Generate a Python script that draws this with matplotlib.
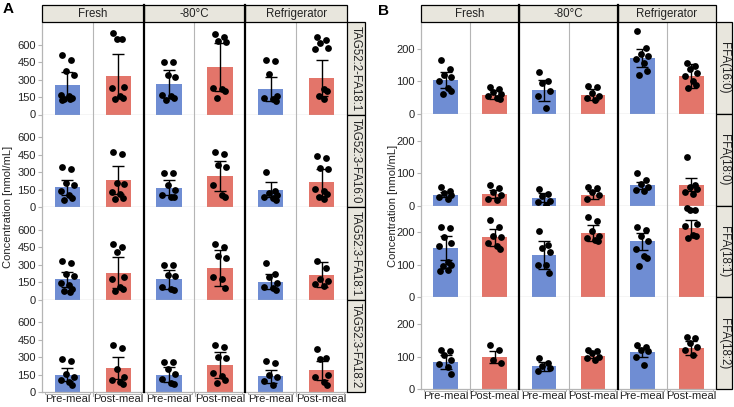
import matplotlib
matplotlib.use("Agg")
import matplotlib.pyplot as plt
from matplotlib.lines import Line2D
from matplotlib.patches import Rectangle

plt.rcParams['font.family'] = ['Liberation Sans', 'DejaVu Sans']

# ── categories ──
conditions = ["Fresh", "-80°C", "Refrigerator"]
meals = ["Pre-meal", "Post-meal"]
tag_rows = ["TAG52:2-FA18:1", "TAG52:3-FA16:0", "TAG52:3-FA18:1", "TAG52:3-FA18:2"]
ffa_rows = ["FFA(16:0)", "FFA(18:0)", "FFA(18:1)", "FFA(18:2)"]

# order in each row: Fresh pre, Fresh post, -80 pre, -80 post, Refr pre, Refr post
tag_mean = [
    [257, 331, 263, 409, 220, 314],
    [170, 232, 167, 266, 147, 212],
    [172, 231, 172, 272, 153, 214],
    [149, 206, 149, 234, 135, 186],
]
tag_sd = [
    [109, 192, 117, 205, 100, 157],
    [65, 122, 68, 131, 65, 114],
    [64, 132, 78, 153, 64, 106],
    [54, 98, 62, 112, 54, 84],
]
tag_points = [
    [[510, 470, 370, 340, 170, 155, 145, 135, 130, 125],
     [700, 650, 650, 235, 225, 160, 145, 130],
     [455, 450, 340, 325, 170, 155, 140, 125],
     [690, 670, 635, 620, 225, 215, 205, 145],
     [465, 460, 345, 155, 145, 130, 115],
     [665, 640, 615, 570, 565, 215, 200, 160, 135]],
    [[340, 325, 205, 185, 135, 100, 75, 60],
     [475, 455, 205, 200, 125, 110, 75, 65],
     [295, 290, 185, 150, 100, 90, 85],
     [475, 455, 360, 345, 185, 100, 90],
     [305, 135, 120, 100, 90, 75, 60],
     [440, 425, 335, 325, 155, 135, 115, 90, 70]],
    [[330, 310, 215, 200, 140, 125, 90, 75, 65],
     [475, 455, 410, 190, 180, 110, 90, 75],
     [300, 298, 210, 200, 110, 90, 78],
     [480, 455, 370, 355, 195, 180, 95],
     [310, 215, 190, 140, 110, 95, 85],
     [335, 270, 180, 160, 135, 115]],
    [[280, 270, 155, 130, 100, 85, 60],
     [400, 380, 195, 125, 100, 90, 70],
     [260, 258, 195, 155, 115, 80, 65],
     [400, 385, 305, 295, 165, 140, 100, 80],
     [270, 250, 150, 125, 95, 60],
     [370, 290, 280, 150, 125, 85, 60]],
]

ffa_mean = [
    [103, 59, 72, 59, 172, 116],
    [33, 36, 24, 33, 62, 64],
    [152, 185, 130, 198, 172, 213],
    [83, 99, 70, 103, 113, 126],
]
ffa_sd = [
    [25, 13, 32, 16, 28, 36],
    [8, 12, 14, 13, 10, 20],
    [38, 26, 42, 25, 26, 26],
    [21, 19, 13, 8, 13, 21],
]
ffa_points = [
    [[167, 137, 118, 113, 100, 78, 70, 60],
     [82, 75, 68, 60, 55, 50, 45],
     [128, 100, 95, 70, 55, 18],
     [85, 82, 65, 55, 50, 42],
     [256, 203, 183, 177, 170, 157, 131, 121],
     [157, 147, 137, 127, 116, 100, 90, 80]],
    [[58, 46, 38, 31, 26, 21],
     [62, 54, 41, 31, 21, 16],
     [51, 36, 28, 15, 10, 3],
     [56, 54, 41, 31, 21],
     [99, 79, 67, 56, 48, 44],
     [151, 62, 56, 51, 41, 36]],
    [[218, 213, 186, 167, 157, 108, 100, 95, 85, 80],
     [239, 218, 190, 186, 167, 157, 150],
     [203, 162, 152, 140, 100, 98, 74],
     [247, 234, 205, 188, 183, 178, 172],
     [216, 208, 188, 172, 150, 127, 121, 96],
     [274, 270, 268, 225, 220, 193, 190, 183]],
    [[121, 116, 106, 88, 78, 68, 45],
     [136, 121, 90, 80],
     [97, 80, 70, 65, 54],
     [121, 116, 111, 100, 95, 90],
     [136, 129, 120, 116, 100, 75],
     [160, 157, 142, 131, 121, 106]],
]

# ── style ──
W, H = 734, 407
BLUE = '#6F8DD3'
RED = '#E3756A'
GREY = '#B5B5B5'
STRIP = '#E8E6DD'
JIT = [-0.10, 0.08, -0.03, 0.12, -0.13, 0.04, 0.10, -0.06, 0.05, -0.11]


def fx(px):
    return px / W


def fy(py):
    return 1 - py / H


fig = plt.figure(figsize=(W / 100, H / 100), dpi=100, facecolor='white')


def draw_panel(letter, lx, left, right, strip_r, bottom, ymax, yticks,
               rows, means, sds, points, letter_x, letter_y):
    top = 22
    rh = (bottom - top) / 4
    gw = (right - left) / 3
    for r in range(4):
        rt = top + r * rh
        ax = fig.add_axes([fx(left), fy(rt + rh), (right - left) / W, rh / H])
        ax.set_xlim(-0.5, 5.5)
        ax.set_ylim(0, ymax)
        for i in range(6):
            col = BLUE if i % 2 == 0 else RED
            ax.bar(i, means[r][i], width=0.5, color=col, zorder=2)
            pts = points[r][i]
            xs = [i + JIT[k % len(JIT)] for k in range(len(pts))]
            ax.scatter(xs, pts, s=24, color='black', zorder=3, linewidths=0)
            ax.errorbar(i, means[r][i], yerr=sds[r][i], fmt='none',
                        ecolor='black', elinewidth=1.0, capsize=4,
                        capthick=1.0, zorder=4)
        for xv in (0.5, 2.5, 4.5):
            ax.axvline(xv, color=GREY, lw=0.8, zorder=1)
        for s in ('top', 'right'):
            ax.spines[s].set_visible(False)
        for s in ('left', 'bottom'):
            ax.spines[s].set_color(GREY)
            ax.spines[s].set_linewidth(0.9)
        ax.set_yticks(yticks)
        ax.tick_params(axis='y', length=3, color=GREY, labelsize=8,
                       pad=1.5, labelcolor='#222222')
        if r == 3:
            ax.set_xticks(range(6))
            ax.set_xticklabels(meals * 3)
            ax.tick_params(axis='x', length=0, labelsize=8, pad=1.2,
                           labelcolor='#222222')
        else:
            ax.set_xticks([])
        # right strip
        fig.add_artist(Rectangle((fx(right), fy(rt + rh)), (strip_r - right) / W,
                                 rh / H, facecolor=STRIP, edgecolor='black',
                                 lw=0.9, transform=fig.transFigure))
        fig.text(fx((right + strip_r) / 2), fy(rt + rh / 2), rows[r],
                 rotation=-90, ha='center', va='center', fontsize=8.3,
                 color='#222222')
    # header strips
    for g, name in enumerate(conditions):
        gl = left + g * gw
        fig.add_artist(Rectangle((fx(gl), fy(top)), gw / W, (top - 5) / H,
                                 facecolor=STRIP, edgecolor='black', lw=0.9,
                                 transform=fig.transFigure))
        fig.text(fx(gl + gw / 2), fy((top + 5) / 2 + 0.5), name, ha='center',
                 va='center', fontsize=8.3, color='#222222')
    # thick group dividers
    for g in (1, 2):
        xg = fx(left + g * gw)
        fig.add_artist(Line2D([xg, xg], [fy(5), fy(bottom)], color='black',
                              lw=1.6, transform=fig.transFigure))
    # brackets below axis
    sw = gw / 2
    for k in range(6):
        x0 = left + k * sw + 3
        x1 = left + (k + 1) * sw - 3
        fig.add_artist(Line2D([fx(x0), fx(x0), fx(x1), fx(x1)],
                              [fy(bottom + 0.5), fy(bottom + 2), fy(bottom + 2), fy(bottom + 0.5)],
                              color=GREY, lw=0.7, transform=fig.transFigure))
    for k in (1, 3, 5):
        xs = fx(left + k * sw)
        fig.add_artist(Line2D([xs, xs], [fy(bottom), fy(bottom + 4)], color=GREY,
                              lw=0.8, transform=fig.transFigure))
    fig.text(fx(lx), fy((top + bottom) / 2), 'Concentration [nmol/mL]',
             rotation=90, ha='center', va='center', fontsize=8, color='#222222')
    fig.text(fx(letter_x), fy(letter_y), letter,
             ha='left', va='center', fontsize=11, fontweight='bold')


draw_panel('A', 8, 42, 347, 365, 392, 795, [0, 150, 300, 450, 600],
           tag_rows, tag_mean, tag_sd, tag_points, 3, 9)
draw_panel('B', 393, 421, 716, 732, 389, 283, [0, 100, 200],
           ffa_rows, ffa_mean, ffa_sd, ffa_points, 378, 11)

fig.savefig('out.png', dpi=100, facecolor='white')
